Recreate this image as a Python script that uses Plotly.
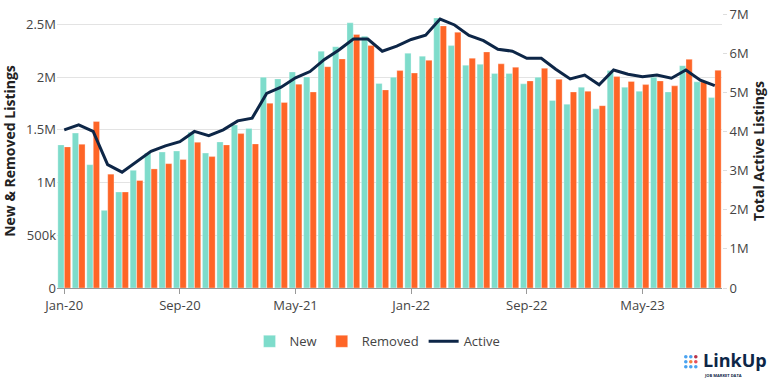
import pandas as pd
import plotly.graph_objects as go

months = list(pd.date_range("2020-01-01", periods=46, freq="MS").strftime("%b-%y"))
tick_labels = ["Jan-20", "Sep-20", "May-21", "Jan-22", "Sep-22", "May-23"]

new_listings = [
    1.358, 1.47, 1.17, 0.737, 0.911, 1.117, 1.28, 1.29, 1.30, 1.478,
    1.28, 1.386, 1.547, 1.513, 2.0, 1.984, 2.05, 2.003, 2.247, 2.29,
    2.516, 2.39, 1.94, 2.0, 2.228, 2.20, 2.563, 2.30, 2.114, 2.123,
    2.035, 2.035, 1.937, 2.0, 1.78, 1.744, 1.905, 1.70, 2.063, 1.905,
    1.867, 2.0, 1.86, 2.11, 1.956, 1.807,
]
removed_listings = [
    1.339, 1.364, 1.58, 1.08, 0.911, 1.02, 1.13, 1.18, 1.22, 1.383,
    1.247, 1.358, 1.465, 1.367, 1.753, 1.76, 1.934, 1.86, 2.10, 2.174,
    2.405, 2.30, 1.88, 2.063, 2.04, 2.16, 2.487, 2.427, 2.18, 2.24,
    2.127, 2.095, 1.965, 2.085, 1.98, 1.86, 1.867, 1.73, 2.006, 1.96,
    1.93, 1.965, 1.918, 2.17, 1.956, 2.066,
]
active_listings = [
    4.04, 4.17, 4.0, 3.15, 2.96, 3.23, 3.49, 3.63, 3.74, 4.0,
    3.89, 4.04, 4.27, 4.34, 4.97, 5.13, 5.37, 5.53, 5.84, 6.08,
    6.36, 6.36, 6.05, 6.18, 6.35, 6.46, 6.87, 6.72, 6.45, 6.32,
    6.10, 6.05, 5.87, 5.87, 5.59, 5.34, 5.44, 5.19, 5.57, 5.46,
    5.40, 5.44, 5.36, 5.57, 5.31, 5.17,
]

TEAL = "#7edccb"
ORANGE = "#fe6527"
NAVY = "#0d2647"
FONT = "Open Sans"

fig = go.Figure()
fig.add_trace(go.Bar(
    x=months, y=[v * 1e6 for v in new_listings], name="New",
    marker=dict(color=TEAL, line=dict(color="rgba(255,255,255,0.6)", width=0.5)),
))
fig.add_trace(go.Bar(
    x=months, y=[v * 1e6 for v in removed_listings], name="Removed",
    marker=dict(color=ORANGE, line=dict(color="rgba(255,255,255,0.6)", width=0.5)),
))
fig.add_trace(go.Scatter(
    x=months, y=[v * 1e6 for v in active_listings], name="Active",
    mode="lines", line=dict(color=NAVY, width=3), yaxis="y2",
))

fig.update_layout(
    width=768, height=382,
    margin=dict(l=57, r=46, t=14, b=94, autoexpand=False),
    paper_bgcolor="white", plot_bgcolor="white",
    font=dict(family=FONT, size=12, color="#444"),
    barmode="group", bargap=0.1, bargroupgap=0.04,
    showlegend=True,
    legend=dict(orientation="h", x=0.482, xanchor="center", y=-0.14, yanchor="top",
                font=dict(family=FONT, size=13, color="#444"), traceorder="normal"),
    xaxis=dict(
        type="category", tickmode="array", tickvals=tick_labels, ticktext=tick_labels,
        showgrid=False, showline=True, linecolor="#999", linewidth=1,
        ticks="outside", ticklen=5, tickcolor="#999", automargin=False,
        tickfont=dict(family=FONT, size=13, color="#444"),
    ),
    yaxis=dict(
        range=[0, 2.6e6], dtick=500000, tickformat="~s", automargin=False,
        showgrid=True, gridcolor="#e3e3e3", gridwidth=1, zeroline=False,
        tickfont=dict(family=FONT, size=13, color="#444"),
        title=dict(text="New & Removed Listings", standoff=8,
                   font=dict(family=FONT, size=14, color="#222", weight="bold")),
    ),
    yaxis2=dict(
        range=[0, 7e6], dtick=1e6, tickformat="~s", overlaying="y", side="right",
        showgrid=False, zeroline=False, automargin=False,
        ticks="outside", ticklen=4, tickcolor="#ddd",
        tickfont=dict(family=FONT, size=13, color="#444"),
        title=dict(text="Total Active Listings", standoff=6,
                   font=dict(family=FONT, size=14, color="#222", weight="bold")),
    ),
)

# LinkUp logo
dot_colors = [["#4aa3f0", "#4aa3f0", "#b8344a"],
              ["#4aa3f0", "#f5803e", "#e8505b"],
              ["#4aa3f0", "#4aa3f0", "#4aa3f0"]]
for r, row in enumerate(dot_colors):
    for c, col in enumerate(row):
        x0 = 684 + c * 5
        y0 = 355 + r * 5
        fig.add_shape(type="circle", xref="paper", yref="paper",
                      x0=(x0 - 57) / 665, x1=(x0 + 3.6 - 57) / 665,
                      y0=(288 - y0 - 3.6) / 274, y1=(288 - y0) / 274,
                      fillcolor=col, line=dict(width=0))
fig.add_annotation(xref="paper", yref="paper", x=(701 - 57) / 665, y=(288 - 346) / 274,
                   xanchor="left", yanchor="top", showarrow=False,
                   text="<b>LinkUp</b>", font=dict(family=FONT, size=18, color=NAVY))
fig.add_annotation(xref="paper", yref="paper", x=(702 - 57) / 665, y=(288 - 371) / 274,
                   xanchor="left", yanchor="top", showarrow=False,
                   text="<b>JOB MARKET DATA</b>", font=dict(family=FONT, size=4, color=NAVY))

fig.write_html("out.html", config={"displayModeBar": False},
               post_script="document.body.style.margin='0';document.body.style.overflow='hidden';")
